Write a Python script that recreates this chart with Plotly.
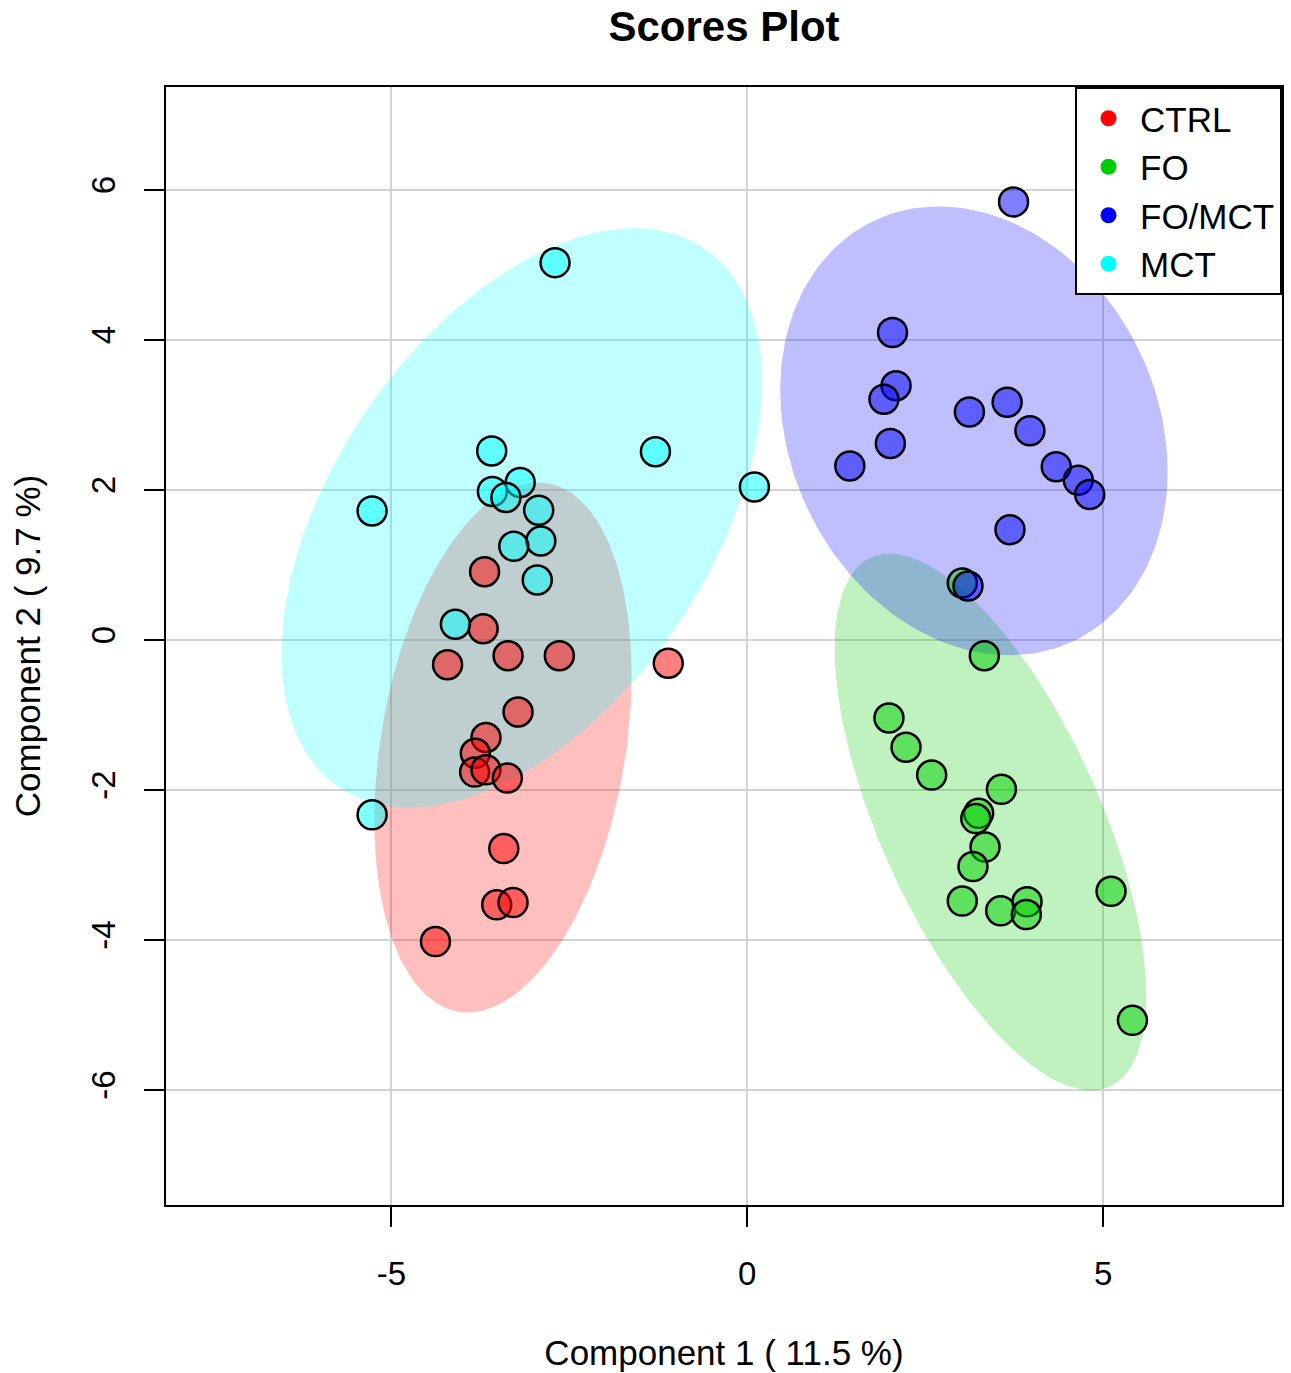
import numpy as np
import plotly.graph_objects as go

# ---------------- data ----------------
groups = ["CTRL", "FO", "FO/MCT", "MCT"]

ctrl_x = [-3.69, -3.71, -4.21, -3.36, -2.64, -1.11, -3.22, -3.67, -3.82, -3.83, -3.67, -3.37, -3.42, -3.52, -3.29, -4.38]
ctrl_y = [0.91, 0.15, -0.33, -0.21, -0.21, -0.31, -0.96, -1.30, -1.51, -1.76, -1.73, -1.84, -2.78, -3.53, -3.50, -4.02]

fo_x = [3.02, 3.33, 1.99, 2.23, 2.59, 3.57, 3.25, 3.21, 3.34, 3.17, 3.02, 3.56, 3.93, 3.92, 5.11, 5.41]
fo_y = [0.76, -0.21, -1.04, -1.43, -1.80, -1.99, -2.31, -2.38, -2.76, -3.02, -3.48, -3.61, -3.49, -3.66, -3.35, -5.07]

fomct_x = [3.74, 2.04, 2.09, 1.92, 2.01, 1.44, 3.12, 3.65, 3.97, 4.34, 4.65, 4.81, 3.69, 3.10]
fomct_y = [5.84, 4.10, 3.39, 3.21, 2.62, 2.32, 3.04, 3.17, 2.79, 2.31, 2.13, 1.94, 1.47, 0.72]

mct_x = [-2.70, -3.59, -1.29, 0.10, -5.27, -3.19, -3.58, -3.39, -2.93, -2.90, -3.28, -2.95, -4.10, -5.27]
mct_y = [5.03, 2.52, 2.51, 2.04, 1.72, 2.10, 1.98, 1.90, 1.73, 1.32, 1.25, 0.80, 0.21, -2.33]

x_tick_vals = [-5, 0, 5]
x_tick_text = ["-5", "0", "5"]
y_tick_vals = [-6, -4, -2, 0, 2, 4, 6]
y_tick_text = ["-6", "-4", "-2", "0", "2", "4", "6"]

title_text = "Scores Plot"
x_title = "Component 1 ( 11.5 %)"
y_title = "Component 2 ( 9.7 %)"

# ---------------- styles ----------------
rgb = {"CTRL": (255, 0, 0), "FO": (0, 205, 0), "FO/MCT": (0, 0, 255), "MCT": (0, 255, 255)}
series = {"CTRL": (ctrl_x, ctrl_y), "FO": (fo_x, fo_y), "FO/MCT": (fomct_x, fomct_y), "MCT": (mct_x, mct_y)}
FONT = "Liberation Sans, Arial, sans-serif"


def conf_ellipse(xs, ys, level_t=np.sqrt(5.991464547), n=200):
    pts = np.column_stack([xs, ys])
    c = pts.mean(axis=0)
    cov = np.cov(pts, rowvar=False)
    L = np.linalg.cholesky(cov)
    th = np.linspace(0, 2 * np.pi, n)
    circ = np.vstack([np.cos(th), np.sin(th)])
    e = (L @ circ) * level_t
    return c[0] + e[0], c[1] + e[1]


fig = go.Figure()

# ellipses
for g in groups:
    xs, ys = series[g]
    ex, ey = conf_ellipse(xs, ys)
    r, gg, b = rgb[g]
    fig.add_trace(go.Scatter(
        x=ex, y=ey, mode="lines", fill="toself",
        fillcolor=f"rgba({r},{gg},{b},0.25)",
        line=dict(width=0, color=f"rgba({r},{gg},{b},0)"),
        showlegend=False, hoverinfo="skip"))

# points
for g in groups:
    xs, ys = series[g]
    r, gg, b = rgb[g]
    fig.add_trace(go.Scatter(
        x=xs, y=ys, mode="markers", name=g, showlegend=False,
        marker=dict(size=29, color=f"rgba({r},{gg},{b},0.5)",
                    line=dict(color="black", width=2.5))))

# legend entries
for g in groups:
    r, gg, b = rgb[g]
    fig.add_trace(go.Scatter(
        x=[None], y=[None], mode="markers", name=g,
        marker=dict(size=18, color=f"rgb({r},{gg},{b})")))

axis_common = dict(
    showgrid=True, gridcolor="#D3D3D3", gridwidth=2,
    zeroline=False, showline=True, mirror=True,
    linecolor="black", linewidth=2,
    ticks="outside", ticklen=20, tickwidth=2, tickcolor="black",
    tickfont=dict(size=33, color="black", family=FONT),
)

fig.update_layout(
    width=1291, height=1373,
    margin=dict(l=166, r=7, t=87, b=168),
    paper_bgcolor="white", plot_bgcolor="white",
    font=dict(family=FONT, color="black"),
    title=dict(text=f"<b>{title_text}</b>", x=0.5, xref="paper",
               y=1 - 26 / 1373, yref="container", yanchor="middle",
               xanchor="center", font=dict(size=42, color="black", family=FONT)),
    xaxis=dict(range=[-8.165, 7.511], tickvals=x_tick_vals, ticktext=x_tick_text,
               ticklabelstandoff=18,
               title=dict(text=x_title, font=dict(size=35, color="black"), standoff=50),
               **axis_common),
    yaxis=dict(range=[-7.533, 7.373], tickvals=y_tick_vals, ticktext=y_tick_text,
               tickangle=-90, ticklabelstandoff=16,
               title=dict(text=y_title, font=dict(size=35, color="black"), standoff=34),
               **axis_common),
    legend=dict(x=1, xanchor="right", y=1, yanchor="top",
                bordercolor="black", borderwidth=2, bgcolor="white",
                font=dict(size=35, color="black", family=FONT),
                itemwidth=53, tracegroupgap=0),
    showlegend=True,
)

fig.write_html("out.html")
